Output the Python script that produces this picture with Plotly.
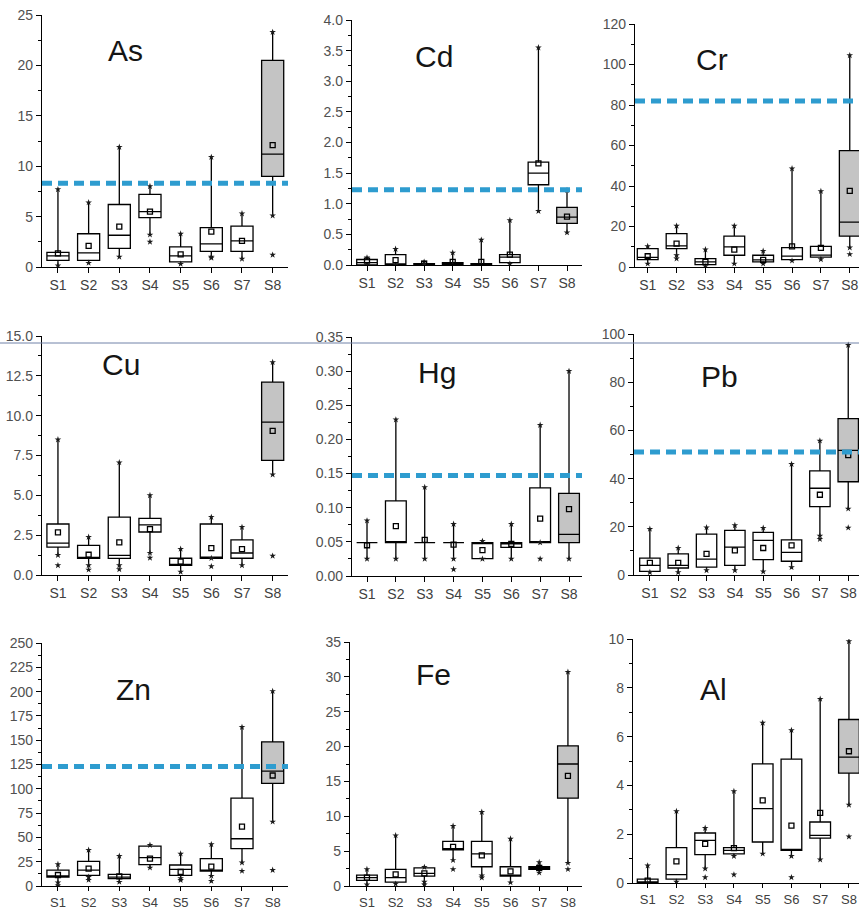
import plotly.graph_objects as go

CATS = ["S1", "S2", "S3", "S4", "S5", "S6", "S7", "S8"]

# ---------------- As ----------------
AS_LOW = [0.15, 0.4, 1.0, 3.2, 0.3, 1.0, 0.8, 5.1]
AS_Q1 = [0.65, 0.65, 1.85, 4.9, 0.5, 1.55, 1.55, 9.0]
AS_MED = [1.1, 1.4, 3.15, 5.5, 1.1, 2.3, 2.6, 11.2]
AS_Q3 = [1.45, 3.3, 6.2, 7.2, 2.0, 3.9, 4.05, 20.5]
AS_HIGH = [7.7, 6.4, 11.9, 8.0, 3.3, 10.9, 5.3, 23.3]
AS_MEAN = [1.35, 2.1, 4.0, 5.5, 1.25, 3.5, 2.6, 12.1]
AS_OUT_X = ["S4", "S6", "S8"]
AS_OUT_Y = [2.5, 0.9, 1.2]
AS_GUIDE = 8.3

# ---------------- Cd ----------------
CD_LOW = [0.0, 0.0, 0.0, 0.0, 0.0, 0.02, 0.88, 0.53]
CD_Q1 = [0.0, 0.0, 0.0, 0.0, 0.0, 0.04, 1.31, 0.68]
CD_MED = [0.04, 0.01, 0.01, 0.02, 0.01, 0.13, 1.5, 0.78]
CD_Q3 = [0.09, 0.17, 0.02, 0.04, 0.02, 0.17, 1.68, 0.94]
CD_HIGH = [0.12, 0.26, 0.05, 0.2, 0.41, 0.73, 3.55, 1.22]
CD_MEAN = [0.07, 0.08, 0.02, 0.05, 0.05, 0.17, 1.66, 0.79]
CD_OUT_X = []
CD_OUT_Y = []
CD_GUIDE = 1.23

# ---------------- Cr ----------------
CR_LOW = [1.6, 5.8, 0.3, 1.6, 1.6, 3.1, 3.8, 9.6]
CR_Q1 = [3.6, 9.1, 1.2, 5.8, 2.5, 3.6, 4.9, 15.2]
CR_MED = [4.8, 10.4, 2.5, 9.9, 3.5, 5.4, 5.9, 22.2]
CR_Q3 = [9.1, 16.5, 4.1, 15.2, 5.8, 9.6, 10.2, 57.5]
CR_HIGH = [10.2, 20.3, 8.6, 20.3, 7.9, 48.6, 37.4, 104.5]
CR_MEAN = [5.3, 11.5, 2.5, 8.6, 3.5, 10.2, 9.4, 37.6]
CR_OUT_X = ["S2", "S8"]
CR_OUT_Y = [4.1, 6.3]
CR_GUIDE = 82.0

# ---------------- Cu ----------------
CU_LOW = [1.25, 0.6, 0.6, 1.38, 0.2, 1.05, 0.6, 6.3]
CU_Q1 = [1.75, 1.04, 1.04, 2.7, 0.6, 1.05, 1.05, 7.2]
CU_MED = [2.0, 1.1, 1.23, 3.15, 0.6, 1.05, 1.38, 9.6]
CU_Q3 = [3.2, 1.86, 3.63, 3.55, 1.05, 3.2, 2.2, 12.1]
CU_HIGH = [8.5, 2.38, 7.06, 5.0, 1.63, 3.63, 3.0, 13.35]
CU_MEAN = [2.67, 1.27, 2.05, 2.88, 0.84, 1.69, 1.63, 9.05]
CU_OUT_X = ["S1", "S2", "S3", "S4", "S6", "S8"]
CU_OUT_Y = [0.6, 0.33, 0.35, 1.07, 0.54, 1.2]
CU_GUIDE = None

# ---------------- Hg ----------------
HG_LOW = [0.025, 0.025, 0.025, 0.025, 0.025, 0.025, 0.049, 0.025]
HG_Q1 = [0.049, 0.049, 0.049, 0.049, 0.0255, 0.042, 0.049, 0.049]
HG_MED = [0.049, 0.049, 0.049, 0.049, 0.049, 0.047, 0.049, 0.061]
HG_Q3 = [0.049, 0.11, 0.049, 0.049, 0.049, 0.049, 0.129, 0.121]
HG_HIGH = [0.081, 0.229, 0.13, 0.076, 0.051, 0.076, 0.221, 0.30]
HG_MEAN = [0.045, 0.073, 0.053, 0.046, 0.038, 0.047, 0.084, 0.098]
HG_OUT_X = ["S4", "S7"]
HG_OUT_Y = [0.0098, 0.025]
HG_GUIDE = 0.147

# ---------------- Pb ----------------
PB_LOW = [1.1, 1.1, 1.9, 1.9, 1.4, 3.2, 16.3, 27.5]
PB_Q1 = [1.5, 2.9, 3.3, 4.0, 6.4, 5.7, 28.4, 38.7]
PB_MED = [4.0, 4.0, 6.6, 11.6, 14.4, 9.4, 36.0, 51.7]
PB_Q3 = [7.0, 8.8, 17.0, 18.5, 17.7, 14.6, 43.2, 64.9]
PB_HIGH = [19.1, 11.2, 19.7, 20.6, 19.5, 46.0, 55.7, 95.4]
PB_MEAN = [5.0, 5.0, 8.8, 10.2, 11.2, 12.3, 33.3, 49.7]
PB_OUT_X = ["S7", "S8"]
PB_OUT_Y = [14.9, 19.6]
PB_GUIDE = 51.0

# ---------------- Zn ----------------
ZN_LOW = [3.4, 9.2, 4.1, 18.8, 7.9, 10.3, 24.0, 66.1]
ZN_Q1 = [9.2, 11.0, 7.5, 21.9, 11.0, 15.4, 38.4, 105.5]
ZN_MED = [10.3, 16.4, 9.2, 29.1, 17.1, 16.1, 48.6, 118.2]
ZN_Q3 = [16.4, 25.3, 12.0, 41.1, 21.6, 28.1, 90.4, 148.3]
ZN_HIGH = [22.3, 37.0, 30.8, 42.1, 33.2, 42.8, 163.4, 200.4]
ZN_MEAN = [11.3, 17.8, 10.0, 28.1, 14.4, 19.9, 61.0, 113.7]
ZN_OUT_X = ["S1", "S2", "S5", "S6", "S7", "S8"]
ZN_OUT_Y = [0.5, 6.2, 6.0, 5.1, 15.4, 16.4]
ZN_GUIDE = 123.0

# ---------------- Fe ----------------
FE_LOW = [0.2, 0.3, 0.6, 3.7, 1.5, 0.5, 1.9, 3.3]
FE_Q1 = [0.8, 0.57, 1.43, 5.2, 2.76, 1.43, 2.4, 12.6]
FE_MED = [1.19, 1.19, 1.8, 5.3, 4.6, 1.5, 2.6, 17.5]
FE_Q3 = [1.57, 2.38, 2.6, 6.4, 6.4, 2.76, 2.76, 20.1]
FE_HIGH = [2.4, 7.24, 2.7, 8.6, 10.6, 6.76, 3.4, 30.7]
FE_MEAN = [1.2, 1.67, 1.8, 5.6, 4.4, 2.1, 2.6, 15.8]
FE_OUT_X = ["S3", "S4", "S5", "S8"]
FE_OUT_Y = [0.2, 2.4, 1.2, 2.4]
FE_GUIDE = None

# ---------------- Al ----------------
AL_LOW = [0.0, 0.05, 0.59, 1.1, 1.2, 1.1, 0.96, 3.2]
AL_Q1 = [0.0, 0.16, 1.16, 1.19, 1.68, 1.34, 1.84, 4.5]
AL_MED = [0.05, 0.34, 1.75, 1.34, 3.05, 1.34, 1.95, 5.16]
AL_Q3 = [0.16, 1.45, 2.05, 1.45, 4.88, 5.08, 2.5, 6.7]
AL_HIGH = [0.71, 2.94, 2.25, 3.76, 6.56, 6.26, 7.54, 9.9]
AL_MEAN = [0.1, 0.89, 1.6, 1.43, 3.39, 2.35, 2.87, 5.4]
AL_OUT_X = ["S3", "S4", "S6", "S8"]
AL_OUT_Y = [0.23, 0.34, 0.23, 1.9]
AL_GUIDE = None

ELEMENTS = ["As", "Cd", "Cr", "Cu", "Hg", "Pb", "Zn", "Fe", "Al"]
STATS = {
    "As": (AS_LOW, AS_Q1, AS_MED, AS_Q3, AS_HIGH, AS_MEAN, AS_OUT_X, AS_OUT_Y, AS_GUIDE),
    "Cd": (CD_LOW, CD_Q1, CD_MED, CD_Q3, CD_HIGH, CD_MEAN, CD_OUT_X, CD_OUT_Y, CD_GUIDE),
    "Cr": (CR_LOW, CR_Q1, CR_MED, CR_Q3, CR_HIGH, CR_MEAN, CR_OUT_X, CR_OUT_Y, CR_GUIDE),
    "Cu": (CU_LOW, CU_Q1, CU_MED, CU_Q3, CU_HIGH, CU_MEAN, CU_OUT_X, CU_OUT_Y, CU_GUIDE),
    "Hg": (HG_LOW, HG_Q1, HG_MED, HG_Q3, HG_HIGH, HG_MEAN, HG_OUT_X, HG_OUT_Y, HG_GUIDE),
    "Pb": (PB_LOW, PB_Q1, PB_MED, PB_Q3, PB_HIGH, PB_MEAN, PB_OUT_X, PB_OUT_Y, PB_GUIDE),
    "Zn": (ZN_LOW, ZN_Q1, ZN_MED, ZN_Q3, ZN_HIGH, ZN_MEAN, ZN_OUT_X, ZN_OUT_Y, ZN_GUIDE),
    "Fe": (FE_LOW, FE_Q1, FE_MED, FE_Q3, FE_HIGH, FE_MEAN, FE_OUT_X, FE_OUT_Y, FE_GUIDE),
    "Al": (AL_LOW, AL_Q1, AL_MED, AL_Q3, AL_HIGH, AL_MEAN, AL_OUT_X, AL_OUT_Y, AL_GUIDE),
}

# axis settings: (ymax, dtick, tickformat)
YAXES = {
    "As": (25, 5, "d"), "Cd": (4.0, 0.5, ".1f"), "Cr": (120, 20, "d"),
    "Cu": (15.0, 2.5, ".1f"), "Hg": (0.35, 0.05, ".2f"), "Pb": (100, 20, "d"),
    "Zn": (250, 25, "d"), "Fe": (35, 5, "d"), "Al": (10, 2, "d"),
}

# layout in pixels: x_left, x_right, y_top, y_bottom, xrange_lo, xrange_hi, title cx, title cy
W, H = 859, 909
GEOM = {
    "As": (42, 288, 15, 267, -0.52, 7.5, 125, 50),
    "Cd": (352, 582, 20, 265, -0.525, 7.525, 434, 57),
    "Cr": (635, 859, 24, 267, -0.44, 7.32, 712, 59),
    "Cu": (42, 288, 336, 575, -0.52, 7.5, 121, 364),
    "Hg": (352, 582, 337, 576, -0.52, 7.45, 437, 372),
    "Pb": (634, 859, 334, 575, -0.56, 7.38, 719, 377),
    "Zn": (42, 288, 643, 886, -0.52, 7.5, 133, 689),
    "Fe": (350, 582, 642, 886, -0.59, 7.49, 433, 674),
    "Al": (633, 859, 639, 883, -0.51, 7.35, 713, 689),
}

FONT = "Liberation Sans Narrow, Arial Narrow, Liberation Sans, Arial, sans-serif"
GUIDE_COLOR = "#2e9ccf"

fig = go.Figure()
layout = dict(
    width=W, height=H, margin=dict(l=0, r=0, t=0, b=0),
    plot_bgcolor="white", paper_bgcolor="white", showlegend=False,
    annotations=[], shapes=[],
)

for i, el in enumerate(ELEMENTS):
    n = "" if i == 0 else str(i + 1)
    xa, ya = "x" + n, "y" + n
    low, q1, med, q3, high, mean, ox, oy, guide = STATS[el]
    x0, x1, yt, yb, rlo, rhi, tcx, tcy = GEOM[el]
    ymax, dt, fmt = YAXES[el]
    bottom_row = i >= 6

    for sl, fill in ((slice(0, 7), "white"), (slice(7, 8), "#c4c4c4")):
        fig.add_trace(go.Box(
            x=CATS[sl], q1=q1[sl], median=med[sl], q3=q3[sl],
            lowerfence=low[sl], upperfence=high[sl],
            boxpoints=False, fillcolor=fill, width=0.72, whiskerwidth=0,
            line=dict(color="black", width=1.3),
            xaxis=xa, yaxis=ya, hoverinfo="skip",
        ))
    # whisker end markers and extra points
    fig.add_trace(go.Scatter(
        x=CATS + CATS + ox, y=low + high + oy, mode="markers",
        marker=dict(symbol="star", size=5, color="#1a1a1a"),
        xaxis=xa, yaxis=ya, hoverinfo="skip",
    ))
    # means
    fig.add_trace(go.Scatter(
        x=CATS, y=mean, mode="markers",
        marker=dict(symbol="square-open", size=5, color="black", line=dict(width=1.3)),
        xaxis=xa, yaxis=ya, hoverinfo="skip",
    ))

    layout["xaxis" + n] = dict(
        domain=[x0 / W, x1 / W], anchor=ya, type="category",
        range=[rlo, rhi], showline=True, linecolor="black", linewidth=1.3,
        ticks="outside", ticklen=4 if bottom_row else 5, tickwidth=1.2, tickcolor="black",
        tickfont=dict(family=FONT, size=13 if bottom_row else 14, color="#404040"),
        showgrid=False, zeroline=False, automargin=False,
    )
    layout["yaxis" + n] = dict(
        domain=[1 - yb / H, 1 - yt / H], anchor=xa,
        range=[0, ymax], dtick=dt, tick0=0, tickformat=fmt,
        showline=True, linecolor="black", linewidth=1.3,
        ticks="outside", ticklen=5, tickwidth=1.2, tickcolor="black",
        minor=dict(ticks="outside", ticklen=3, dtick=dt / 2, tickcolor="black", tickwidth=1),
        tickfont=dict(family=FONT, size=14, color="#505050"),
        showgrid=False, zeroline=False, automargin=False,
    )
    layout["annotations"].append(dict(
        text=el, xref="paper", yref="paper", x=tcx / W, y=1 - tcy / H,
        xanchor="center", yanchor="middle", showarrow=False,
        font=dict(family=FONT, size=30, color="#151515"),
    ))
    if guide is not None:
        layout["shapes"].append(dict(
            type="line", xref=xa + " domain", yref=ya, x0=0.0, x1=1.0,
            y0=guide, y1=guide,
            line=dict(color=GUIDE_COLOR, width=5, dash="10px,6px"),
        ))

# thin separator line crossing the second row
layout["shapes"].append(dict(
    type="line", xref="paper", yref="paper", x0=0, x1=1,
    y0=1 - 343 / H, y1=1 - 343 / H, line=dict(color="#7082a8", width=1),
))

fig.update_layout(**layout)
fig.write_html("out.html", config={"displayModeBar": False},
               post_script="document.body.style.margin='0';")
